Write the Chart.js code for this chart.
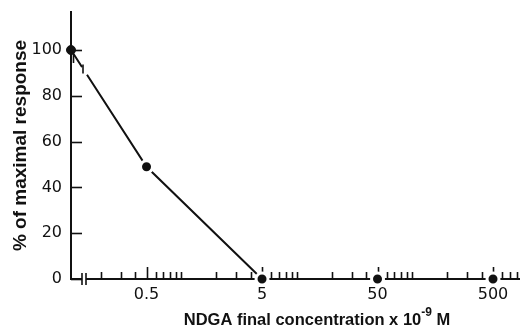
<!DOCTYPE html>
<html><head><meta charset="utf-8">
<script src="https://cdn.jsdelivr.net/npm/chart.js@4"></script>
<style>html,body{margin:0;padding:0;background:#fff}canvas{display:block}</style>
</head><body>
<canvas id="c" width="522" height="331"></canvas>
<script>
// ---- data (0 = control without NDGA, drawn at the broken left end of the axis)
const concentrations = [0, 0.5, 5, 50, 500];
const responses = [100, 49, 0, 0, 0];
const xTickValues = [0.5, 5, 50, 500];
const xTickLabels = ['0.5', '5', '50', '500'];
const yTickValues = [0, 20, 40, 60, 80, 100];
const yTitle = '% of maximal response';
const xTitleMain = 'NDGA final concentration x 10';
const xTitleExp = '-9';
const xTitleUnit = 'M';

const X_MIN = -0.955, X_MAX = 2.924, Y_MAX = 116.6;
const pos = c => c === 0 ? X_MIN : Math.log10(c);
const INK = '#111';

const points = concentrations.map((c, i) => ({x: pos(c), y: responses[i]}));

const decor = {
  id: 'decor',
  beforeDatasetsDraw(chart) {
    const {ctx, chartArea: a, scales: {x, y}} = chart;
    ctx.save();
    ctx.strokeStyle = INK; ctx.lineWidth = 1.6;
    // y ticks (inward)
    yTickValues.forEach(v => {
      const py = Math.round(y.getPixelForValue(v)) + 0.5;
      ctx.beginPath(); ctx.moveTo(a.left, py); ctx.lineTo(a.left + 11, py); ctx.stroke();
    });
    // x log ticks (inward)
    for (let d = -1; d <= 2; d++) {
      for (let k = 1; k <= 9; k++) {
        const v = k * Math.pow(10, d);
        const lv = Math.log10(v);
        if (lv <= X_MIN + 0.2 || lv > X_MAX) continue;
        const major = xTickValues.some(t => Math.abs(t - v) < 1e-9);
        const px = Math.round(x.getPixelForValue(lv)) + 0.5;
        ctx.beginPath(); ctx.moveTo(px, a.bottom); ctx.lineTo(px, a.bottom - (major ? 12 : 7)); ctx.stroke();
      }
    }
    // axis break on x axis
    const bx = a.left + 11;
    ctx.fillStyle = '#fff';
    ctx.fillRect(bx, a.bottom - 2, 4, 4);
    ctx.beginPath();
    ctx.moveTo(bx, a.bottom - 6); ctx.lineTo(bx, a.bottom + 6);
    ctx.moveTo(bx + 4, a.bottom - 6); ctx.lineTo(bx + 4, a.bottom + 6);
    ctx.stroke();
    ctx.restore();
  },
  afterDatasetsDraw(chart) {
    const {ctx, scales: {x, y}} = chart;
    const p0 = {x: x.getPixelForValue(points[0].x), y: y.getPixelForValue(points[0].y)};
    const p1 = {x: x.getPixelForValue(points[1].x), y: y.getPixelForValue(points[1].y)};
    const s = (p1.y - p0.y) / (p1.x - p0.x);
    const P = xx => p0.y + (xx - p0.x) * s;
    ctx.save();
    // break in the line
    ctx.strokeStyle = '#fff'; ctx.lineWidth = 6;
    ctx.beginPath(); ctx.moveTo(p0.x + 11, P(p0.x + 11)); ctx.lineTo(p0.x + 16, P(p0.x + 16)); ctx.stroke();
    ctx.strokeStyle = INK; ctx.lineWidth = 1.6;
    ctx.beginPath();
    ctx.moveTo(p0.x + 2.5, P(p0.x + 2.5)); ctx.lineTo(p0.x + 2.5, P(p0.x + 2.5) + 9);
    ctx.moveTo(p0.x + 12, P(p0.x + 12) - 4); ctx.lineTo(p0.x + 12, P(p0.x + 12) + 5);
    ctx.stroke();
    // x title with superscript
    ctx.fillStyle = INK; ctx.textBaseline = 'alphabetic'; ctx.textAlign = 'left';
    const fMain = 'bold 16.5px "Liberation Sans", Arial, sans-serif';
    const fSup = 'bold 12px "Liberation Sans", Arial, sans-serif';
    ctx.font = fMain; const w1 = ctx.measureText(xTitleMain).width;
    const wsp = ctx.measureText(' ').width;
    const w3 = ctx.measureText(xTitleUnit).width;
    ctx.font = fSup; const w2 = ctx.measureText(xTitleExp).width;
    const total = w1 + w2 + wsp + w3;
    const cx = (chart.chartArea.left + chart.chartArea.right) / 2 + 22;
    const base = chart.height - 6;
    let sx = cx - total / 2;
    ctx.font = fMain; ctx.fillText(xTitleMain, sx, base); sx += w1;
    ctx.font = fSup; ctx.fillText(xTitleExp, sx, base - 9); sx += w2 + wsp;
    ctx.font = fMain; ctx.fillText(xTitleUnit, sx, base);
    ctx.restore();
  }
};

new Chart(document.getElementById('c'), {
  type: 'scatter',
  data: {
    datasets: [{
      data: points,
      showLine: true,
      borderColor: INK,
      borderWidth: 2,
      tension: 0,
      clip: false,
      segment: { borderColor: c => c.p0DataIndex >= 2 ? 'rgba(0,0,0,0)' : INK },
      pointBackgroundColor: INK,
      pointBorderColor: c => c.dataIndex === 0 ? INK : '#fff',
      pointBorderWidth: c => c.dataIndex === 0 ? 1 : 3,
      pointRadius: c => c.dataIndex === 0 ? 4.5 : 6,
      pointHoverRadius: 6
    }]
  },
  options: {
    responsive: false,
    devicePixelRatio: 1,
    animation: false,
    events: [],
    layout: { autoPadding: false, padding: { top: 12, right: 3, left: 0, bottom: 0 } },
    plugins: { legend: { display: false }, tooltip: { enabled: false } },
    scales: {
      x: {
        type: 'linear', min: X_MIN, max: X_MAX,
        afterFit: s => { s.height = 52; s.paddingLeft = 0; s.paddingRight = 0; },
        afterBuildTicks: s => { s.ticks = xTickValues.map(v => ({value: Math.log10(v)})); },
        grid: { drawOnChartArea: false, drawTicks: false },
        border: { display: true, color: INK, width: 2 },
        ticks: {
          padding: 6, color: INK,
          font: { family: '"DejaVu Sans", sans-serif', size: 16 },
          maxRotation: 0, autoSkip: false,
          callback: (v) => {
            const i = xTickValues.findIndex(t => Math.abs(Math.log10(t) - v) < 1e-6);
            return i >= 0 ? xTickLabels[i] : '';
          }
        }
      },
      y: {
        type: 'linear', min: 0, max: Y_MAX,
        afterFit: s => { s.width = 71; s.paddingTop = 0; s.paddingBottom = 0; },
        afterBuildTicks: s => { s.ticks = yTickValues.map(v => ({value: v})); },
        grid: { drawOnChartArea: false, drawTicks: false },
        border: { display: true, color: INK, width: 2 },
        ticks: {
          padding: 9, color: INK,
          font: { family: '"DejaVu Sans", sans-serif', size: 16 }
        },
        title: {
          display: true, text: yTitle, color: INK,
          font: { family: '"Liberation Sans", Arial, sans-serif', size: 19, weight: 'bold' },
          padding: { top: 9, bottom: 0 }
        }
      }
    }
  },
  plugins: [decor]
});
</script>
</body></html>
